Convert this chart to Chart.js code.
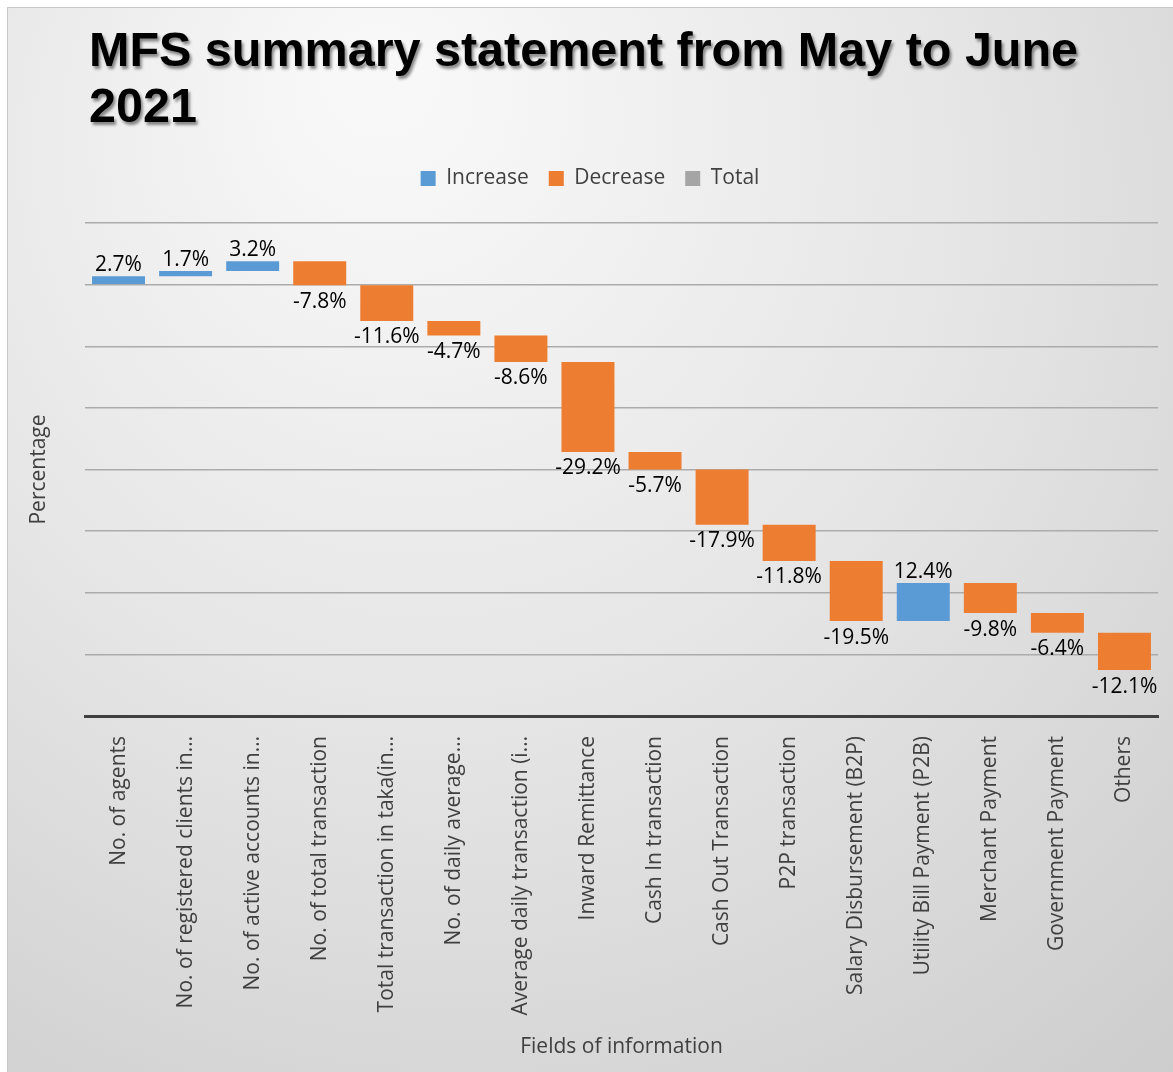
<!DOCTYPE html>
<html>
<head>
<meta charset="utf-8">
<script src="https://cdn.jsdelivr.net/npm/chart.js@4.4.1/dist/chart.umd.min.js"></script>
<style>
  html, body { margin: 0; padding: 0; background: #fff; }
  #wrap { position: relative; width: 1173px; height: 1072px; overflow: hidden; }
  #frame { position: absolute; left: 7px; top: 7px; width: 1166px; height: 1065px; border-left: 1px solid #c8c8c8; border-top: 1px solid #c8c8c8; box-sizing: border-box; }
  canvas { position: absolute; left: 0; top: 0; }
</style>
</head>
<body>
<div id="wrap">
  <div id="frame"></div>
  <canvas id="wfChart" width="1173" height="1072"></canvas>
</div>
<script>
// Fields along the x axis (truncated as in the source chart)
const fields = [
  'No. of agents',
  'No. of registered clients in…',
  'No. of active accounts in…',
  'No. of total transaction',
  'Total transaction in taka(in…',
  'No. of daily average…',
  'Average daily transaction (i…',
  'Inward Remittance',
  'Cash In transaction',
  'Cash Out Transaction',
  'P2P transaction',
  'Salary Disbursement (B2P)',
  'Utility Bill Payment (P2B)',
  'Merchant Payment',
  'Government Payment',
  'Others'
];

// Percentage change May -> June 2021
const changes = [2.7, 1.7, 3.2, -7.8, -11.6, -4.7, -8.6, -29.2, -5.7, -17.9, -11.8, -19.5, 12.4, -9.8, -6.4, -12.1];

const chartTitle = ['MFS summary statement from May to June', '2021'];
const yMin = -140;
const yMax = 20;
const yStep = 20;

// running total -> floating bars
let running = 0;
const increaseBars = [];
const decreaseBars = [];
changes.forEach((c) => {
  const start = running;
  running += c;
  if (c >= 0) {
    increaseBars.push([start, running]);
    decreaseBars.push(null);
  } else {
    increaseBars.push(null);
    decreaseBars.push([start, running]);
  }
});
const totalBars = changes.map(() => null);

const fontFamily = '"Open Sans", sans-serif';
const labelFont = '21px ' + fontFamily;

// background gradient behind everything
const backgroundPlugin = {
  id: 'bg',
  beforeDraw(chart) {
    const ctx = chart.ctx;
    ctx.save();
    const g = ctx.createRadialGradient(380, 80, 50, 500, 300, 1100);
    g.addColorStop(0, '#f8f8f8');
    g.addColorStop(0.45, '#e6e6e6');
    g.addColorStop(1, '#cacaca');
    ctx.fillStyle = g;
    ctx.fillRect(8, 8, chart.width - 8, chart.height - 8);
    ctx.restore();
  }
};

// extra room under the legend
const legendGap = {
  id: 'legendGap',
  beforeInit(chart) {
    const origFit = chart.legend.fit;
    chart.legend.fit = function () {
      origFit.bind(chart.legend)();
      this.height += 24;
    };
  }
};

// big left aligned title with a drop shadow
const titlePlugin = {
  id: 'bigTitle',
  afterDraw(chart) {
    const ctx = chart.ctx;
    ctx.save();
    ctx.font = 'bold 48.5px "Liberation Sans", Arial, sans-serif';
    ctx.fillStyle = '#000';
    ctx.textAlign = 'left';
    ctx.textBaseline = 'alphabetic';
    ctx.shadowColor = 'rgba(0,0,0,0.45)';
    ctx.shadowOffsetX = 2;
    ctx.shadowOffsetY = 3;
    ctx.shadowBlur = 3;
    chartTitle.forEach((line, i) => ctx.fillText(line, 89, 66 + i * 56));
    ctx.restore();
  }
};

// value labels: above rising bars, below falling bars
const valueLabels = {
  id: 'valueLabels',
  afterDatasetsDraw(chart) {
    const ctx = chart.ctx;
    const yScale = chart.scales.y;
    ctx.save();
    ctx.font = labelFont;
    ctx.fillStyle = '#000';
    ctx.textAlign = 'center';
    [0, 1].forEach((dsIndex) => {
      const meta = chart.getDatasetMeta(dsIndex);
      meta.data.forEach((bar, i) => {
        const v = chart.data.datasets[dsIndex].data[i];
        if (!v) return;
        const c = changes[i];
        const txt = c.toFixed(1) + '%';
        if (c >= 0) {
          ctx.textBaseline = 'alphabetic';
          ctx.fillText(txt, bar.x, yScale.getPixelForValue(v[1]) - 5);
        } else {
          ctx.textBaseline = 'top';
          ctx.fillText(txt, bar.x, yScale.getPixelForValue(v[1]) + 6);
        }
      });
    });
    ctx.restore();
  }
};

new Chart(document.getElementById('wfChart'), {
  type: 'bar',
  data: {
    labels: fields,
    datasets: [
      { label: 'Increase', data: increaseBars, backgroundColor: '#5b9bd5' },
      { label: 'Decrease', data: decreaseBars, backgroundColor: '#ed7d31' },
      { label: 'Total', data: totalBars, backgroundColor: '#a5a5a5' }
    ]
  },
  options: {
    responsive: false,
    animation: false,
    grouped: false,
    barPercentage: 1,
    categoryPercentage: 0.79,
    layout: { padding: { top: 148, left: 22, right: 15, bottom: 12 } },
    plugins: {
      legend: {
        position: 'top',
        labels: {
          boxWidth: 15,
          boxHeight: 15,
          padding: 20,
          color: '#404040',
          font: { family: fontFamily, size: 21 }
        }
      },
      tooltip: { enabled: false },
      title: { display: false }
    },
    scales: {
      x: {
        grid: { display: false },
        border: { color: '#404040', width: 3 },
        ticks: {
          color: '#404040',
          font: { family: fontFamily, size: 21 },
          minRotation: 90,
          maxRotation: 90,
          autoSkip: false,
          padding: 12
        },
        title: {
          display: true,
          text: 'Fields of information',
          color: '#404040',
          font: { family: fontFamily, size: 21 },
          padding: { top: 4, bottom: 0 }
        },
        afterFit(scale) { scale.height = 344; }
      },
      y: {
        min: yMin,
        max: yMax,
        ticks: { display: false, stepSize: yStep },
        grid: { color: '#ababab', lineWidth: 1.5, drawTicks: false },
        border: { display: false },
        title: {
          display: true,
          text: 'Percentage',
          color: '#404040',
          font: { family: fontFamily, size: 21 }
        },
        afterFit(scale) { scale.width = 63; }
      }
    }
  },
  plugins: [backgroundPlugin, legendGap, valueLabels, titlePlugin]
});
</script>
</body>
</html>
